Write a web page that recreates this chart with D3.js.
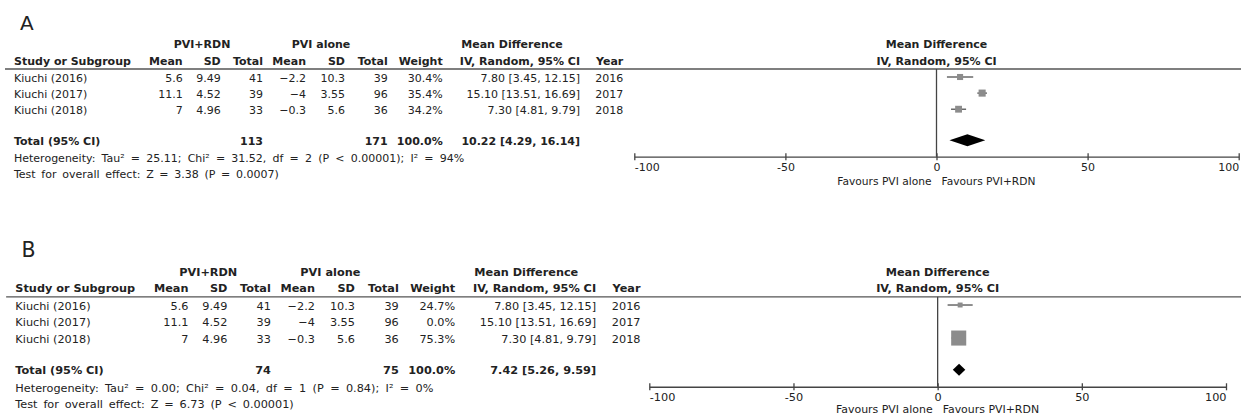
<!DOCTYPE html>
<html>
<head>
<meta charset="utf-8">
<script src="https://cdn.jsdelivr.net/npm/d3@7"></script>
<style>
  html, body { margin: 0; padding: 0; background: #fff; }
  svg { display: block; }
  text { font-family: "DejaVu Sans", Verdana, sans-serif; fill: #222; }
</style>
</head>
<body>
<svg id="chart" width="1248" height="417"></svg>
<script>
// ---- Study data ----
const studies = ["Kiuchi (2016)", "Kiuchi (2017)", "Kiuchi (2018)"];
const years = [2016, 2017, 2018];
const rdnMean = [5.6, 11.1, 7];
const rdnSD = [9.49, 4.52, 4.96];
const rdnTotal = [41, 39, 33];
const aloneMean = [-2.2, -4, -0.3];
const aloneSD = [10.3, 3.55, 5.6];
const aloneTotal = [39, 96, 36];
const mdEst = [7.80, 15.10, 7.30];
const mdLow = [3.45, 13.51, 4.81];
const mdHigh = [12.15, 16.69, 9.79];

// Analysis A: all three studies; analysis B: 2017 study given zero weight
const weightsA = [30.4, 35.4, 34.2];
const weightsB = [24.7, 0.0, 75.3];
const pooledA = [10.22, 4.29, 16.14];
const pooledB = [7.42, 5.26, 9.59];
const totalsA = [113, 171];
const totalsB = [74, 75];
const hetA = ["Heterogeneity: Tau", "² = 25.11; Chi", "² = 31.52, df = 2 (P < 0.00001); I", "² = 94%"];
const hetB = ["Heterogeneity: Tau", "² = 0.00; Chi", "² = 0.04, df = 1 (P = 0.84); I", "² = 0%"];
const overallA = "Test for overall effect: Z = 3.38 (P = 0.0007)";
const overallB = "Test for overall effect: Z = 6.73 (P < 0.00001)";

const axisTicks = [-100, -50, 0, 50, 100];
const axisDomain = [-100, 100];

const svg = d3.select("#chart");
const fmtNum = d3.format("");
const f2 = d3.format(".2f");
const f1 = d3.format(".1f");
const ciText = (m, l, h) => `${f2(m)} [${f2(l)}, ${f2(h)}]`;

// side of the weight square (pixels) grows with study weight
const squareSide = d3.scaleLinear().domain([0, 100]).range([0, 20]);

function drawPanel(p) {
  const g = svg.append("g");
  const X = v => p.dx + p.k * v;
  const Y = v => p.top + p.k * v;
  const fs = 11 * p.k;
  const base = 4 * p.k;

  function txt(x, y, s, anchor, bold, size) {
    return g.append("text")
      .attr("x", X(x)).attr("y", Y(y) + base)
      .attr("text-anchor", anchor || "start")
      .attr("font-size", size || fs)
      .attr("font-weight", bold ? "bold" : "normal")
      .text(s);
  }

  // panel letter
  g.append("text").attr("x", X(20)).attr("y", Y(30)).attr("font-size", 20 * p.k).text(p.letter);

  // column right edges
  const c = { mean1: 182.7, sd1: 220.7, tot1: 263, mean2: 306, sd2: 345, tot2: 387.7, w: 442.7, ci: 580, yr: 623.3 };

  // group headers
  txt(202, 44.3, "PVI+RDN", "middle", true);
  txt(321, 44.3, "PVI alone", "middle", true);
  txt(512, 44.3, "Mean Difference", "middle", true);

  const hy = 60.6;
  txt(14, hy, "Study or Subgroup", "start", true);
  txt(c.mean1, hy, "Mean", "end", true);
  txt(c.sd1, hy, "SD", "end", true);
  txt(c.tot1, hy, "Total", "end", true);
  txt(c.mean2, hy, "Mean", "end", true);
  txt(c.sd2, hy, "SD", "end", true);
  txt(c.tot2, hy, "Total", "end", true);
  txt(c.w, hy, "Weight", "end", true);
  txt(c.ci, hy, "IV, Random, 95% CI", "end", true);
  txt(c.yr, hy, "Year", "end", true);

  // header rule
  g.append("line").attr("x1", X(5)).attr("x2", 1241)
    .attr("y1", Y(69)).attr("y2", Y(69))
    .attr("stroke", "#555").attr("stroke-width", 1.3);

  const rowY = [77.5, 93.6, 109.7];
  studies.forEach((s, i) => {
    const y = rowY[i];
    txt(14, y, s);
    txt(c.mean1, y, fmtNum(rdnMean[i]), "end");
    txt(c.sd1, y, fmtNum(rdnSD[i]), "end");
    txt(c.tot1, y, fmtNum(rdnTotal[i]), "end");
    txt(c.mean2, y, fmtNum(aloneMean[i]), "end");
    txt(c.sd2, y, fmtNum(aloneSD[i]), "end");
    txt(c.tot2, y, fmtNum(aloneTotal[i]), "end");
    txt(c.w, y, f1(p.weights[i]) + "%", "end");
    txt(c.ci, y, ciText(mdEst[i], mdLow[i], mdHigh[i]), "end");
    txt(c.yr, y, String(years[i]), "end");
  });

  const ty = 140.7;
  txt(14, ty, "Total (95% CI)", "start", true);
  txt(c.tot1, ty, String(p.totals[0]), "end", true);
  txt(c.tot2, ty, String(p.totals[1]), "end", true);
  txt(c.w, ty, "100.0%", "end", true);
  txt(c.ci, ty, ciText(p.pooled[0], p.pooled[1], p.pooled[2]), "end", true);

  const het = txt(14, 157.8, "").attr("word-spacing", 2.7 * p.k);
  p.het.forEach(part => het.append("tspan").text(part));
  txt(14, 173.8, p.overall).attr("word-spacing", 2.2 * p.k);

  // ---- forest plot ----
  const x = d3.scaleLinear().domain(axisDomain).range([p.plotLeft, p.plotRight]);
  const axisY = Y(156.7);

  g.append("text").attr("x", x(0)).attr("y", Y(44.3) + base)
    .attr("text-anchor", "middle").attr("font-size", fs).attr("font-weight", "bold").text("Mean Difference");
  g.append("text").attr("x", x(0)).attr("y", Y(60.6) + base)
    .attr("text-anchor", "middle").attr("font-size", fs).attr("font-weight", "bold").text("IV, Random, 95% CI");

  // line of no effect
  g.append("line").attr("x1", x(0)).attr("x2", x(0))
    .attr("y1", Y(69)).attr("y2", axisY)
    .attr("stroke", "#444").attr("stroke-width", 1.3);

  studies.forEach((s, i) => {
    const w = p.weights[i];
    if (w <= 0) return;
    const cy = Y(rowY[i]) - 0.5;
    g.append("line").attr("x1", x(mdLow[i])).attr("x2", x(mdHigh[i]))
      .attr("y1", cy).attr("y2", cy).attr("stroke", "#444").attr("stroke-width", 1.2);
    const side = squareSide(w);
    g.append("rect").attr("x", x(mdEst[i]) - side / 2).attr("y", cy - side / 2)
      .attr("width", side).attr("height", side).attr("fill", "#8c8c8c");
  });

  // pooled diamond
  const dy = Y(ty) - 0.5;
  const hh = 6;
  g.append("path")
    .attr("d", `M${x(p.pooled[1])},${dy} L${x(p.pooled[0])},${dy - hh} L${x(p.pooled[2])},${dy} L${x(p.pooled[0])},${dy + hh} Z`)
    .attr("fill", "#000");

  // axis with ticks crossing the line
  const ax = g.append("g").attr("transform", `translate(0,${axisY})`)
    .call(d3.axisBottom(x).tickValues(axisTicks).tickSizeOuter(0).tickSizeInner(3.5).tickPadding(3)
      .tickFormat(d => String(d)));
  ax.select(".domain").attr("stroke", "#444").attr("stroke-width", 1.3);
  ax.selectAll(".tick line").attr("y1", -3.5).attr("stroke", "#444").attr("stroke-width", 1.3);
  ax.selectAll(".tick text")
    .attr("font-family", "DejaVu Sans, Verdana, sans-serif")
    .attr("font-size", fs).attr("fill", "#222")
    .attr("text-anchor", d => d === axisDomain[0] ? "start" : d === axisDomain[1] ? "end" : "middle");

  const fy = p.favY + 4;
  g.append("text").attr("x", x(0) - 5).attr("y", fy).attr("text-anchor", "end")
    .attr("font-size", fs * 0.97).text("Favours PVI alone");
  g.append("text").attr("x", x(0) + 5).attr("y", fy).attr("text-anchor", "start")
    .attr("font-size", fs * 0.97).text("Favours PVI+RDN");
}

drawPanel({ letter: "A", top: 0, k: 1, dx: 0, plotLeft: 634.3, plotRight: 1238.7, favY: 181,
  weights: weightsA, pooled: pooledA, totals: totalsA, het: hetA, overall: overallA });
drawPanel({ letter: "B", top: 226, k: 1.026, dx: 1, plotLeft: 649.3, plotRight: 1226, favY: 409,
  weights: weightsB, pooled: pooledB, totals: totalsB, het: hetB, overall: overallB });
</script>
</body>
</html>
